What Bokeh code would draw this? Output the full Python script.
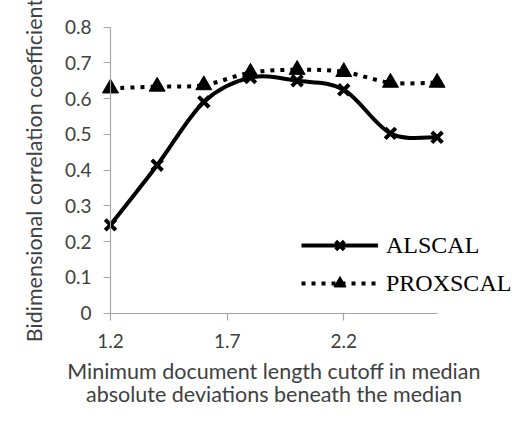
import numpy as np
from bokeh.plotting import figure
from bokeh.models import Range1d, FixedTicker, CustomJSTickFormatter, Legend, LegendItem
from bokeh.embed import file_html
from bokeh.resources import INLINE

# ---- data ----
cutoffs = [1.2, 1.4, 1.6, 1.8, 2.0, 2.2, 2.4, 2.6]
alscal = [0.247, 0.414, 0.591, 0.659, 0.650, 0.625, 0.503, 0.492]
proxscal = [0.629, 0.634, 0.638, 0.673, 0.681, 0.675, 0.645, 0.645]
x_ticks = [1.2, 1.7, 2.2]
y_ticks = [0.0, 0.1, 0.2, 0.3, 0.4, 0.5, 0.6, 0.7, 0.8]
series_names = ["ALSCAL", "PROXSCAL"]
x_title = "Minimum document length cutoff in median\nabsolute deviations beneath the median"
y_title = "Bidimensional correlation coefficient"


def smooth_segments(xs, ys):
    """Bezier control points (Catmull-Rom style, like a spreadsheet 'smoothed line')."""
    x = np.asarray(xs, float)
    y = np.asarray(ys, float)
    n = len(x)
    xp = np.concatenate([[x[0]], x, [x[-1]]])
    yp = np.concatenate([[y[0]], y, [y[-1]]])
    return dict(
        x0=xp[1:n], y0=yp[1:n], x1=xp[2:n + 1], y1=yp[2:n + 1],
        cx0=xp[1:n] + (xp[2:n + 1] - xp[0:n - 1]) / 6.0,
        cy0=yp[1:n] + (yp[2:n + 1] - yp[0:n - 1]) / 6.0,
        cx1=xp[2:n + 1] - (xp[3:n + 2] - xp[1:n]) / 6.0,
        cy1=yp[2:n + 1] - (yp[3:n + 2] - yp[1:n]) / 6.0,
    )


TXT = "#404040"
AX = "#a6a6a6"

# the frame spans the whole canvas; both axes are pinned at the data origin
# (first cutoff, 0) and their lines limited with bounds
p = figure(width=514, height=408,
           x_range=Range1d(0.7285, 2.9318), y_range=Range1d(-0.2666, 0.8747),
           output_backend="svg", toolbar_location=None,
           min_border_left=0, min_border_right=0,
           min_border_top=0, min_border_bottom=0)
p.outline_line_color = None
p.xgrid.visible = False
p.ygrid.visible = False
p.background_fill_color = "white"
p.border_fill_color = "white"

fmt = CustomJSTickFormatter(code="return (Math.round(tick*10)/10).toString();")
for ax in (p.xaxis[0], p.yaxis[0]):
    ax.axis_line_color = AX
    ax.axis_line_width = 1.2
    ax.major_tick_line_color = AX
    ax.major_tick_line_width = 1.2
    ax.major_tick_out = 7
    ax.major_tick_in = 0
    ax.minor_tick_line_color = None
    ax.major_label_text_font = "Lato"
    ax.major_label_text_font_size = "19px"
    ax.major_label_text_color = TXT
    ax.axis_label_text_font = "Lato"
    ax.axis_label_text_font_size = "21.5px"
    ax.axis_label_text_font_style = "normal"
    ax.axis_label_text_color = TXT
    ax.formatter = fmt

p.xaxis.ticker = FixedTicker(ticks=x_ticks)
p.yaxis.ticker = FixedTicker(ticks=y_ticks)
p.xaxis.bounds = (cutoffs[0], cutoffs[-1])
p.yaxis.bounds = (y_ticks[0], y_ticks[-1])
p.yaxis.fixed_location = cutoffs[0]
p.xaxis.fixed_location = y_ticks[0]
p.xaxis.major_label_standoff = 14
p.yaxis.major_label_standoff = 12
p.xaxis.axis_label = x_title
p.yaxis.axis_label = y_title
p.xaxis.axis_label_standoff = 6
p.xaxis.axis_label_text_line_height = 0.91
p.yaxis.axis_label_standoff = 15

# ---- ALSCAL (smoothed solid line with X markers) ----
sa = smooth_segments(cutoffs, alscal)
p.bezier(x0=sa["x0"], y0=sa["y0"], x1=sa["x1"], y1=sa["y1"],
         cx0=sa["cx0"], cy0=sa["cy0"], cx1=sa["cx1"], cy1=sa["cy1"],
         line_color="black", line_width=4)
la = p.line(cutoffs, alscal, line_color="black", line_width=4, visible=False)
ma = p.scatter(cutoffs, alscal, marker="x", size=15, line_color="black", line_width=4)

# ---- PROXSCAL (smoothed dotted line with triangle markers) ----
sp = smooth_segments(cutoffs, proxscal)
p.bezier(x0=sp["x0"], y0=sp["y0"], x1=sp["x1"], y1=sp["y1"],
         cx0=sp["cx0"], cy0=sp["cy0"], cx1=sp["cx1"], cy1=sp["cy1"],
         line_color="black", line_width=4, line_dash="4 6")
lp = p.line(cutoffs, proxscal, line_color="black", line_width=4, line_dash="4 6", visible=False)
mp = p.scatter(cutoffs, proxscal, marker="triangle", size=16, fill_color="black", line_color="black")

legend = Legend(items=[LegendItem(label=series_names[0], renderers=[la, ma]),
                       LegendItem(label=series_names[1], renderers=[lp, mp])],
                location=(301, 110))
legend.padding = 0
legend.margin = 0
legend.spacing = 8
legend.glyph_width = 77
legend.glyph_height = 30
legend.label_height = 30
legend.label_standoff = 8
legend.border_line_color = None
legend.background_fill_alpha = 0
legend.label_text_font = "Liberation Serif"
legend.label_text_font_size = "24px"
legend.label_text_color = "black"
p.add_layout(legend)

open("out.html", "w").write(file_html(p, INLINE))
